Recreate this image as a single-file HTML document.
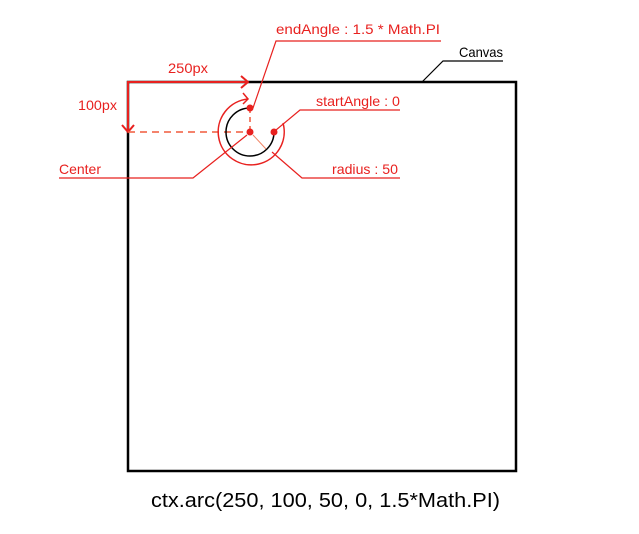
<!DOCTYPE html>
<html><head><meta charset="utf-8"><style>
html,body{margin:0;padding:0;background:#fff;}
svg{display:block;font-family:"Liberation Sans","Noto Sans CJK KR",sans-serif;}
</style></head><body>
<svg width="639" height="534" viewBox="0 0 639 534">
<rect x="128" y="82" width="388" height="389" fill="none" stroke="#000" stroke-width="2.5"/>
<g>
<text x="459" y="57" font-size="14" fill="#000" textLength="44" lengthAdjust="spacingAndGlyphs">Canvas</text>
<polyline points="503,61 443,61 422,82" fill="none" stroke="#000" stroke-width="1.2"/>
</g>
<g stroke="#e8211f" stroke-width="2" fill="none">
<polyline points="128,132 128,82 248,82"/>
<polyline points="241,76 248,82 241,88"/>
<polyline points="122,125 128,132 134,125"/>
</g>
<text x="168" y="73" font-size="14" fill="#e8211f" textLength="40" lengthAdjust="spacingAndGlyphs">250px</text>
<text x="78" y="110" font-size="14" fill="#e8211f" textLength="39" lengthAdjust="spacingAndGlyphs">100px</text>
<line x1="128" y1="132" x2="250" y2="132" stroke="#f05a3c" stroke-width="1.5" stroke-dasharray="7,5"/>
<line x1="250" y1="108" x2="250" y2="132" stroke="#f05a3c" stroke-width="1.5" stroke-dasharray="5,4"/>
<path d="M274,132 A24,24 0 1 1 250,108" fill="none" stroke="#000" stroke-width="1.5"/>
<path d="M283,123 A33,33 0 1 1 248,99" fill="none" stroke="#e8211f" stroke-width="1.5"/>
<polyline points="243,93 248,99 243,104" fill="none" stroke="#e8211f" stroke-width="1.5"/>
<line x1="253" y1="135" x2="266" y2="149" stroke="#f08060" stroke-width="1"/>
<circle cx="250" cy="132" r="3.5" fill="#e8211f"/>
<circle cx="274" cy="132" r="3.5" fill="#e8211f"/>
<circle cx="250" cy="108" r="3.5" fill="#e8211f"/>
<g>
<text x="276" y="34" font-size="14" fill="#e8211f" textLength="164" lengthAdjust="spacingAndGlyphs">endAngle : 1.5 * Math.PI</text>
<polyline points="441,41 276,41 253,108" fill="none" stroke="#e8211f" stroke-width="1.2"/>
</g>
<g>
<text x="316" y="106" font-size="14" fill="#e8211f" textLength="84" lengthAdjust="spacingAndGlyphs">startAngle : 0</text>
<polyline points="400,110 300,110 276,130" fill="none" stroke="#e8211f" stroke-width="1.2"/>
</g>
<g>
<text x="332" y="174" font-size="14" fill="#e8211f" textLength="66" lengthAdjust="spacingAndGlyphs">radius : 50</text>
<polyline points="400,178 302,178 272,152" fill="none" stroke="#e8211f" stroke-width="1.2"/>
</g>
<g>
<text x="59" y="174" font-size="14" fill="#e8211f" textLength="42" lengthAdjust="spacingAndGlyphs">Center</text>
<polyline points="59,178 193,178 247,135" fill="none" stroke="#e8211f" stroke-width="1.2"/>
</g>
<text x="151" y="507" font-size="20" fill="#000" textLength="349" lengthAdjust="spacingAndGlyphs">ctx.arc(250, 100, 50, 0, 1.5*Math.PI)</text>
</svg>
</body></html>
